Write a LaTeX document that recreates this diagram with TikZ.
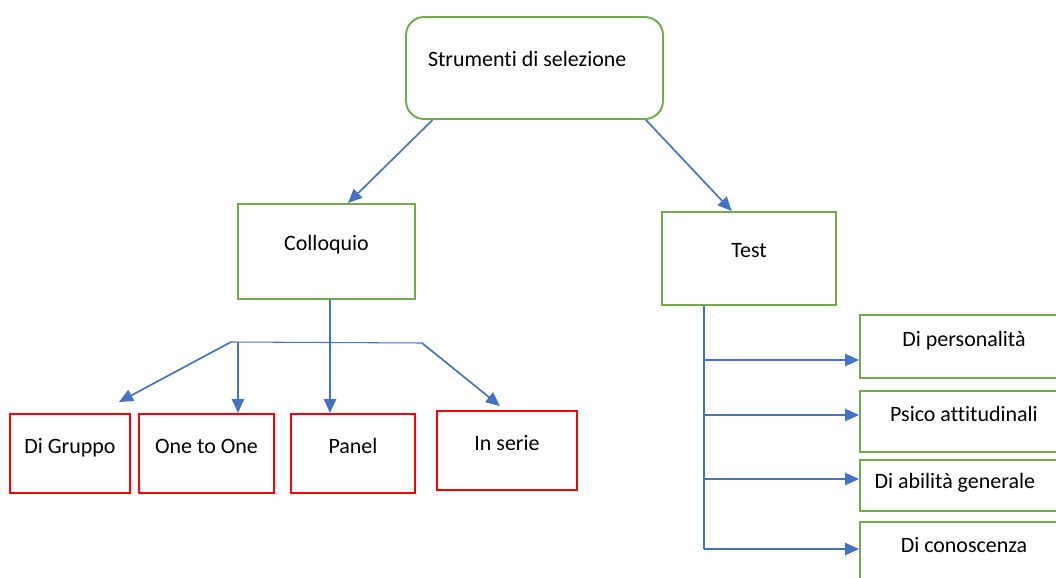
\documentclass[tikz,border=0pt]{standalone}
\usepackage{fontspec}
\setmainfont{Carlito}[Ligatures=NoCommon]
\usetikzlibrary{positioning}
\usetikzlibrary{arrows, arrows.meta}
\definecolor{boxgreen}{HTML}{70AD47}
\definecolor{boxred}{HTML}{FF0000}
\definecolor{linkblue}{HTML}{4472C4}

\begin{document}
\begin{tikzpicture}[x=0.02cm, y=-0.02cm,
  every node/.style={font=\fontsize{12.5}{14}\selectfont, text height=0.3cm},
  gbox/.style={draw=boxgreen, line width=1.1pt, inner sep=0pt},
  rbox/.style={draw=boxred, line width=1.1pt, inner sep=0pt, minimum height=1.58cm},
  lift/.style={text depth=#1},
  arr/.style={draw=linkblue, line width=0.95pt, -{Triangle[length=8pt,width=7pt]}},
  stem/.style={draw=linkblue, line width=0.6pt}]
\useasboundingbox (0,0) rectangle (1056,578);
\clip (0,0) rectangle (1056,578);

% top level
\node[gbox, rounded corners=0.36cm, minimum width=5.14cm, minimum height=2.04cm, lift=0.36cm,
      text width=4.26cm, align=flush left] (root) at (534.5,68) {Strumenti di selezione};
\node[gbox, minimum width=3.54cm, minimum height=1.9cm, lift=0.36cm]  (colloquio) at (326.5,251.5) {Colloquio};
\node[gbox, minimum width=3.48cm, minimum height=1.86cm, lift=0.36cm]  (test) at (749,258.5) {Test};

% colloquio types
\node[rbox, minimum width=2.4cm, lift=0.32cm]  (gruppo)   at (70,453.5)  {Di Gruppo};
\node[rbox, minimum width=2.7cm, lift=0.32cm]  (onetoone) at (206.5,453.5) {One to One};
\node[rbox, minimum width=2.48cm, lift=0.32cm] (panel)    at (353,453.5) {Panel};
\node[rbox, minimum width=2.8cm, lift=0.32cm]  (serie)    at (507,450.5) {In serie};

% test types
\node[gbox, minimum width=4.16cm, minimum height=1.26cm, lift=0.32cm] (pers)  at (964,346.5) {Di personalità};
\node[gbox, minimum width=4.16cm, minimum height=1.22cm, lift=0.32cm] (psico) at (964,421.5) {Psico attitudinali};
\node[gbox, minimum width=4.16cm, minimum height=1.02cm, lift=0.2cm, text width=3.58cm, align=flush left] (abil) at (964,485.5) {Di abilità generale};
\node[gbox, minimum width=4.16cm, minimum height=1.26cm, lift=0.36cm] (cono)  at (964,553.5) {Di conoscenza};

\draw[arr] (root.207) -- (colloquio.66);
\draw[arr] (root.335) -- (test.110);

% colloquio branch
\coordinate (bar l) at (231,342);
\coordinate (drop)  at (238,342);
\coordinate (hub)   at (330,342);
\coordinate (bar r) at (422,343);
\draw[stem] (hub |- colloquio.south) -- (hub);
\draw[stem] (bar l) -- (bar r);
\draw[arr] (bar l) -- ([shift={(-12,-11)}]gruppo.north east);
\draw[arr] (drop) -- (drop |- onetoone.north);
\draw[arr] (hub) -- (hub |- panel.north);
\draw[arr] (bar r) -- ([shift={(-7,-4)}]serie.north);

% test branch
\coordinate (trunk) at (704,0);
\draw[stem] (trunk |- test.south) -- (trunk |- 0,549);
\foreach \y/\n in {360/pers, 415/psico, 479/abil, 549/cono}
  \draw[arr] (trunk |- 0,\y) -- (\n.west |- 0,\y);
\end{tikzpicture}
\end{document}
